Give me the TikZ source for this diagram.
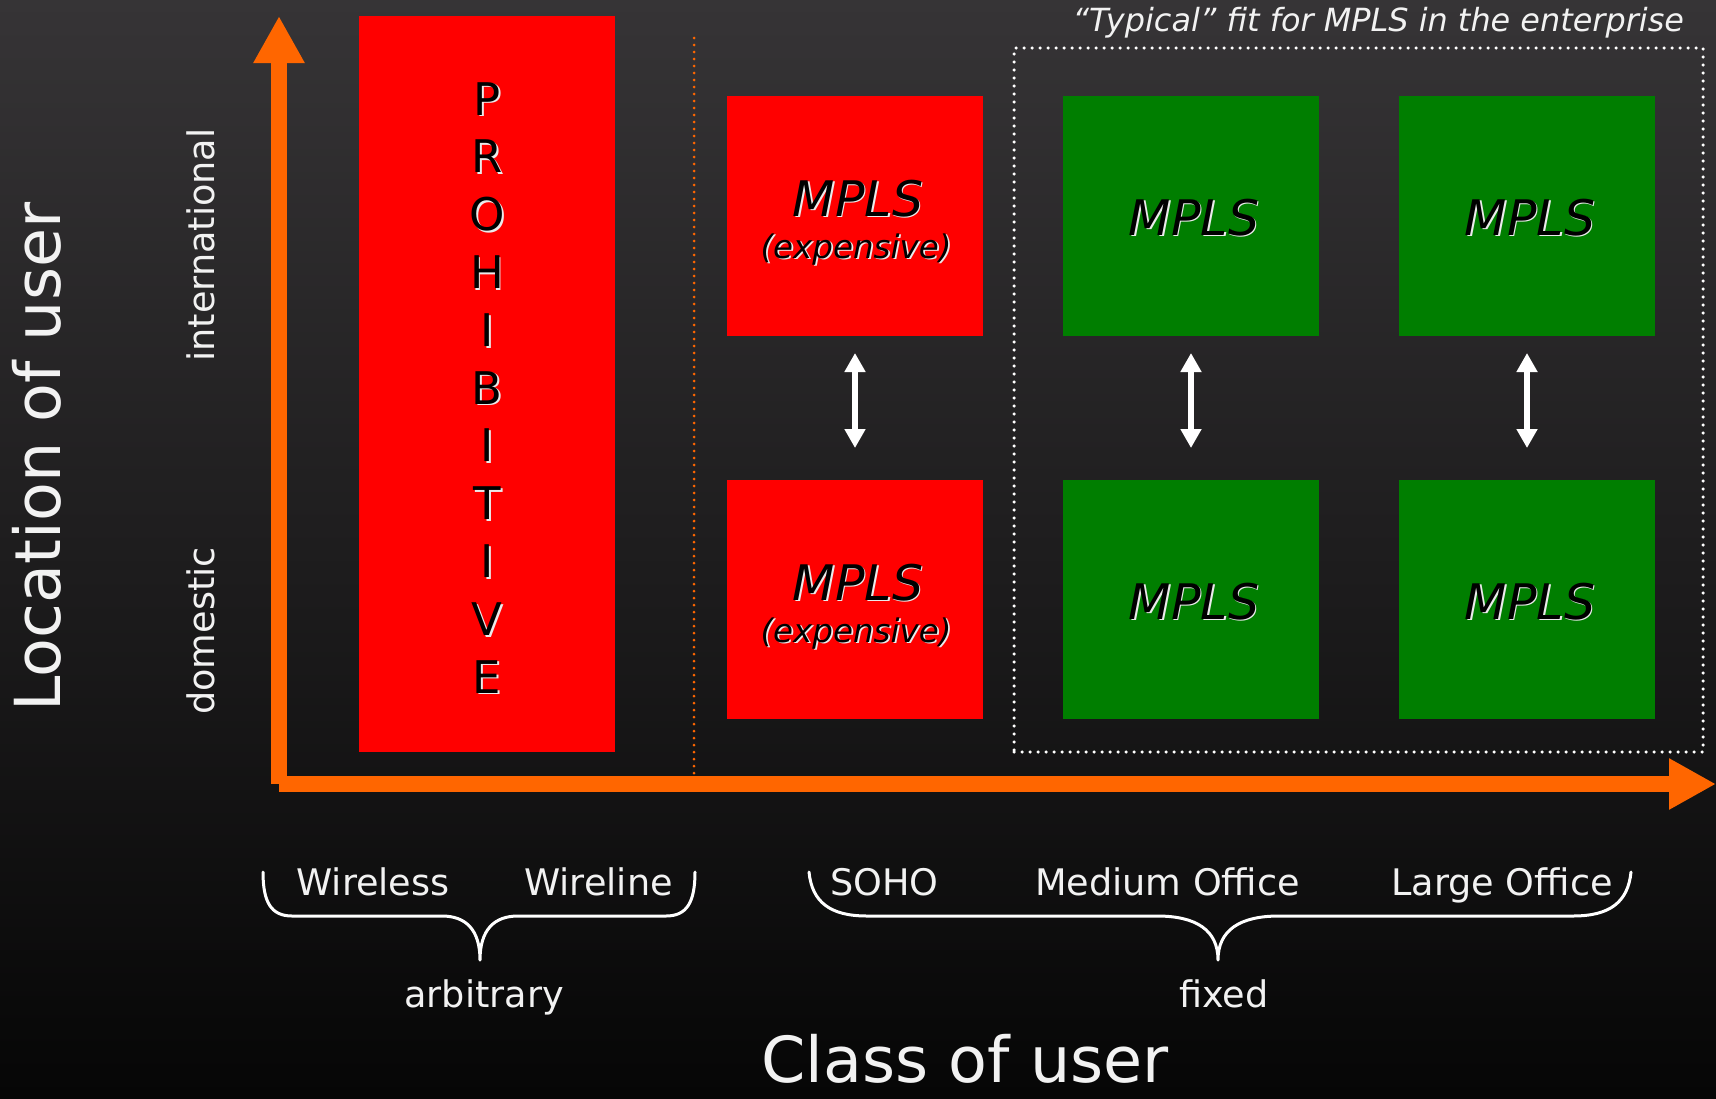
\documentclass[tikz,border=0pt]{standalone}
\usepackage{fontspec}
\setmainfont{DejaVu Sans}
\usetikzlibrary{arrows.meta}
\definecolor{axisorange}{RGB}{255,102,0}
\definecolor{boxred}{RGB}{255,0,0}
\definecolor{boxgreen}{RGB}{0,126,0}
\definecolor{bgtop}{RGB}{54,52,54}
\definecolor{bgbot}{RGB}{6,6,6}
\definecolor{txt}{RGB}{242,242,242}
\newcommand{\emb}[1]{\leavevmode\rlap{\kern1.8pt\raisebox{-1.8pt}{\textcolor{white!92!black}{#1}}}#1}
\newcommand{\fs}[1]{\fontsize{#1}{#1}\selectfont}
\begin{document}
\begin{tikzpicture}[x=1pt,y=-1pt,
  every node/.style={inner sep=0pt, outer sep=0pt},
  redbox/.style={fill=boxred, minimum width=256pt, minimum height=240pt},
  greenbox/.style={fill=boxgreen, minimum width=256pt, minimum height=240pt},
  axisarrow/.style={draw=axisorange, line width=16pt, line cap=butt, -{Triangle[length=47pt,width=48pt]}},
  updown/.style={draw=white, line width=6pt, {Triangle[length=19pt,width=20pt]}-{Triangle[length=19pt,width=20pt]}},
  bracepath/.style={draw=white, line width=3pt, line cap=round, line join=round},
  lab/.style={text=txt, font=\fs{36.6}, anchor=base},
  biglab/.style={text=txt, font=\fs{63.5}, anchor=base},
  mpls/.style={text=black, font=\fs{49}\itshape, anchor=base},
  expens/.style={text=black, font=\fs{32.5}\itshape, anchor=base},
  letter/.style={text=black, font=\fs{45}, anchor=base},
]
% background
\shade[top color=bgtop, bottom color=bgbot] (0,0) rectangle (1716,1098);
\useasboundingbox (0,0) rectangle (1716,1098);

% prohibitive column
\node[fill=boxred, minimum width=256pt, minimum height=736pt] (prohib) at (487,384) {};
\foreach \l [count=\i from 0] in {P,R,O,H,I,B,I,T,I,V,E}
  \node[letter] (pl\i) at (487,115+57.8*\i) {\emb{\l}};

% orange dotted separator
\coordinate (septop) at (694,38);
\coordinate (sepbot) at (694,780);
\draw[axisorange, line width=3pt, dash pattern=on 0pt off 7pt, line cap=round] (septop) -- (sepbot);

% typical fit frame
\node[draw=white, line width=3.5pt, dash pattern=on 0pt off 8pt, line cap=round,
      minimum width=689pt, minimum height=704pt] (frame) at (1358.5,400) {};
\node[anchor=base east, text=txt, font=\fs{31.9}\itshape] (title) at (1684,31)
  {“Typical” fit for MPLS in the enterprise};

% boxes
\node[redbox] (rt) at (855,216) {};
\node[redbox, minimum height=239pt] (rb) at (855,599.5) {};
\node[greenbox] (gt1) at (1191,216) {};
\node[greenbox, minimum height=239pt] (gb1) at (1191,599.5) {};
\node[greenbox] (gt2) at (1527,216) {};
\node[greenbox, minimum height=239pt] (gb2) at (1527,599.5) {};

\node[mpls] (rtm) at (858,216) {\emb{MPLS}};
\node[expens] (rte) at (856,258) {\emb{(expensive)}};
\node[mpls] (rbm) at (858,600) {\emb{MPLS}};
\node[expens] (rbe) at (856,642) {\emb{(expensive)}};
\node[mpls] (gt1m) at (1194,235) {\emb{MPLS}};
\node[mpls] (gb1m) at (1194,619) {\emb{MPLS}};
\node[mpls] (gt2m) at (1530,235) {\emb{MPLS}};
\node[mpls] (gb2m) at (1530,619) {\emb{MPLS}};

% double arrows
\draw[updown, shorten <=17pt, shorten >=32pt] (rt.south) -- (rb.north);
\draw[updown, shorten <=17pt, shorten >=32pt] (gt1.south) -- (gb1.north);
\draw[updown, shorten <=17pt, shorten >=32pt] (gt2.south) -- (gb2.north);

% axes
\coordinate (origin) at (279,784);
\coordinate (ytip) at (279,16);
\coordinate (xtip) at (1716,784);
\draw[axisarrow] (origin) -- (ytip);
\draw[axisarrow] (origin) -- (xtip);

% axis labels
\node[biglab, rotate=90] (loc) at (60,457) {Location of user};
\node[lab, rotate=90] (intl) at (214,245) {international};
\node[lab, rotate=90] (dom) at (214,631) {domestic};
\node[biglab] (cls) at (965,1082) {Class of user};

% bottom labels
\node[lab] (wless) at (373,895) {Wireless};
\node[lab] (wline) at (598.5,895) {Wireline};
\node[lab] (soho) at (884.5,895) {SOHO};
\node[lab] (med) at (1167.5,895) {Medium Office};
\node[lab] (large) at (1502,895) {Large Office};
\node[lab] (arb) at (484,1007) {arbitrary};
\node[lab] (fix) at (1224,1007) {fixed};

% braces
\draw[bracepath] (263,872) .. controls (263,902) and (271,916) .. (292,916)
  -- (442,916) .. controls (466,916) and (480,930) .. (480,960)
  .. controls (480,930) and (494,916) .. (518,916)
  -- (666,916) .. controls (687,916) and (695,902) .. (695,872);
\draw[bracepath] (809,872) .. controls (812,902) and (830,916) .. (867,916)
  -- (1157,916) .. controls (1196,916) and (1218,930) .. (1218,960)
  .. controls (1218,930) and (1240,916) .. (1279,916)
  -- (1573,916) .. controls (1610,916) and (1628,902) .. (1631,872);
\end{tikzpicture}
\end{document}
